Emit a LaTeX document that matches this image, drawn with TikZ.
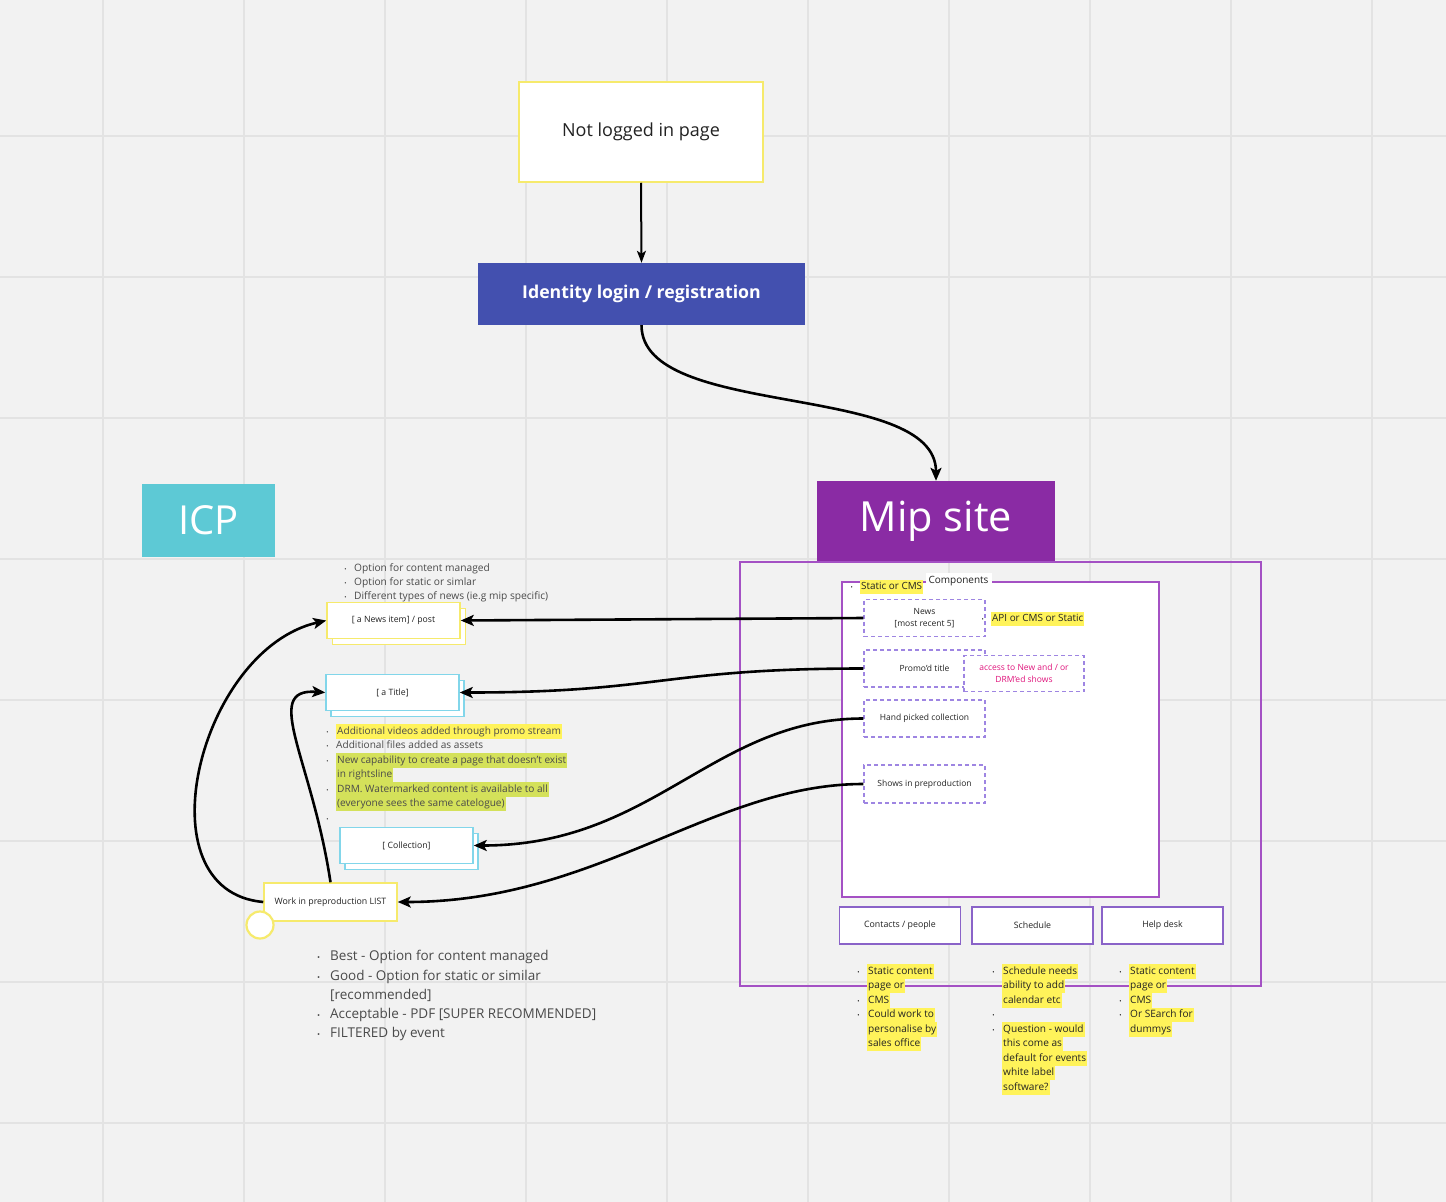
\documentclass[tikz,border=0pt]{standalone}
\usepackage{fontspec}
\setmainfont{Open Sans}
\usepackage{graphicx}
\usetikzlibrary{arrows.meta}

\definecolor{canvas}{HTML}{F2F2F2}
\definecolor{gridgray}{HTML}{E3E3E3}
\definecolor{stickyyellow}{HTML}{F6EA6C}
\definecolor{idblue}{HTML}{4350AF}
\definecolor{icpteal}{HTML}{5DC9D5}
\definecolor{mippurple}{HTML}{8A2BA4}
\definecolor{framepurple}{HTML}{A451C4}
\definecolor{dashviolet}{HTML}{9E85E2}
\definecolor{boxviolet}{HTML}{8A63C8}
\definecolor{cardcyan}{HTML}{82D6EA}
\definecolor{hlyellow}{HTML}{FFF35A}
\definecolor{hlgreen}{HTML}{D4E15A}
\definecolor{drmpink}{HTML}{E0147C}
\definecolor{textgray}{HTML}{4A4A4A}
\definecolor{textdark}{HTML}{222222}

\setlength{\fboxsep}{0pt}
\newcommand{\hly}[1]{\colorbox{hlyellow}{\strut\kern1pt#1\kern1pt}}
\newcommand{\hlg}[1]{\colorbox{hlgreen}{\strut\kern1pt#1\kern1pt}}
\newcommand{\bl}{\strut\llap{\scalebox{0.6}{\textbullet}\hspace{0.75em}}}

\tikzset{
  grid line/.style={draw=gridgray, line width=1.2},
  conn/.style={line width=2.6, -{Stealth[length=13pt,width=11pt,inset=3pt]}},
  conn thin/.style={line width=2, -{Stealth[length=12pt,width=9pt,inset=3pt]}},
  sticky/.style={draw=stickyyellow, fill=white, line width=1.5, text=textdark},
  card/.style={fill=white, line width=1.5, minimum width=133, minimum height=36,
    text=textdark, font=\fontsize{8.7}{11}\selectfont},
  slot/.style={draw=dashviolet, fill=white, line width=1.5, dash pattern=on 4pt off 3pt,
    minimum width=121, minimum height=37, text=textdark, font=\fontsize{8.5}{12}\selectfont, align=center},
  pagebox/.style={draw=boxviolet, fill=white, line width=1.8, minimum width=121,
    minimum height=37, text=textdark, font=\fontsize{8.8}{11}\selectfont},
  bullets/.style={anchor=north west, inner sep=0, align=left, text=textgray,
    font=\fontsize{10.1}{14.5}\selectfont},
}

\begin{document}
\begin{tikzpicture}[x=1pt,y=-1pt]
% canvas and grid
\fill[canvas] (0,0) rectangle (1446,1202);
\useasboundingbox (0,0) rectangle (1446,1202);
\foreach \gx in {103,244,...,1372} \draw[grid line] (\gx,0) -- (\gx,1202);
\foreach \gy in {136,277,...,1123} \draw[grid line] (0,\gy) -- (1446,\gy);

% entry flow
\node (notlogged) [sticky, minimum width=244, minimum height=100,
  font=\fontsize{18}{22}\selectfont] at (641,132) {Not logged in page};
\node (identity) [fill=idblue, minimum width=327, minimum height=62, text=white,
  font=\fontsize{17.7}{20}\selectfont\bfseries] at (641.5,294) {Identity login / registration};
\draw[conn thin] (notlogged.south) -- (identity.north);

% headers
\node (icp) [fill=icpteal, minimum width=133, minimum height=73, text=white,
  font=\fontsize{40}{44}\selectfont] at (208.5,520.5) {ICP};
\node (mip) [fill=mippurple, minimum width=238, minimum height=81, text=white,
  font=\fontsize{41.5}{46}\selectfont] at (936,521.5) {Mip site};
\draw[conn] (identity.south) .. controls +(0,95) and +(0,-100) .. (mip.north);

% Mip site frame and components
\node (mipframe) [draw=framepurple, line width=1.4, minimum width=521, minimum height=424]
  at (1000.5,774) {};
\node (components) [draw=framepurple, fill=white, line width=1.6, minimum width=317,
  minimum height=315] at (1000.5,739.5) {};
\node (complabel) [fill=white, inner sep=3, text=textdark, font=\fontsize{10}{12}\selectfont]
  at (958.5,581) {Components};
\node (staticcms) [anchor=west, inner sep=0, text=textdark, font=\fontsize{9.9}{14}\selectfont]
  at (860,586.5) {\bl\hly{Static or CMS}};

\node (news) [slot] at (924.5,618) {News\\ \relax[most recent 5]};
\node (promo) [slot] at (924.5,668.5) {\hspace*{0pt}Promo'd title\hspace*{0pt}};
\node (access) [slot, minimum width=120, minimum height=36, text=drmpink,
  font=\fontsize{8.5}{12}\selectfont] at (1024,673.5) {access to New and / or\\ DRM'ed shows};
\node (handpicked) [slot] at (924.5,718.5) {Hand picked collection};
\node (shows) [slot, minimum height=38] at (924.5,784) {Shows in preproduction};
\node (apicms) [anchor=west, inner sep=0, text=textdark, font=\fontsize{9.9}{14}\selectfont]
  at (991,618.5) {\bl\hly{API or CMS or Static}};

% pages under the frame
\node (contacts) [pagebox] at (900,925.5) {Contacts / people};
\node (schedule) [pagebox] at (1032.5,925.5) {Schedule};
\node (helpdesk) [pagebox] at (1162.5,925.5) {Help desk};

\node (contactsnotes) [bullets, text=textdark] at (867,964) {\bl\hly{Static content}\\
  \hly{page or}\\ \bl\hly{CMS}\\ \bl\hly{Could work to}\\ \hly{personalise by}\\
  \hly{sales office}};
\node (schedulenotes) [bullets, text=textdark] at (1002,964) {\bl\hly{Schedule needs}\\
  \hly{ability to add}\\ \hly{calendar etc}\\ \bl\\ \bl\hly{Question - would}\\
  \hly{this come as}\\ \hly{default for events}\\ \hly{white label}\\ \hly{software?}};
\node (helpdesknotes) [bullets, text=textdark] at (1129,964) {\bl\hly{Static content}\\
  \hly{page or}\\ \bl\hly{CMS}\\ \bl\hly{Or SEarch for}\\ \hly{dummys}};

% ICP cards
\node (newsitemB) [card, draw=stickyyellow] at (399,626.5) {};
\node (newsitem) [card, draw=stickyyellow] at (393.5,620.5) {[ a News item] / post};
\node (titleB) [card, draw=cardcyan] at (397.5,698.5) {};
\node (title) [card, draw=cardcyan] at (392.5,692.5) {[ a Title]};
\node (collectionB) [card, draw=cardcyan] at (411.5,851.5) {};
\node (collection) [card, draw=cardcyan] at (406.5,845.5) {[ Collection]};
\node (worklist) [sticky, minimum width=133, minimum height=38, font=\fontsize{8.8}{11}\selectfont]
  at (330.5,902) {Work in preproduction LIST};
\node (handle) [circle, draw=stickyyellow, fill=white, line width=2.2, minimum size=27]
  at (260,925) {};

% ICP notes
\node (newsnotes) [bullets, font=\fontsize{10.2}{14}\selectfont] at (354,561.5)
  {\bl Option for content managed\\ \bl Option for static or simlar\\
  \bl Different types of news (ie.g mip specific)};
\node (titlenotes) [bullets] at (336,724) {\bl\hly{Additional videos added through promo stream}\\
  \bl Additional files added as assets\\
  \bl\hlg{New capability to create a page that doesn't exist}\\ \hlg{in rightsline}\\
  \bl\hlg{DRM. Watermarked content is available to all}\\
  \hlg{(everyone sees the same catelogue)}\\ \bl};
\node (worknotes) [bullets, font=\fontsize{13.5}{19.3}\selectfont] at (330,947)
  {\bl Best - Option for content managed\\ \bl Good - Option for static or similar\\
  \relax[recommended]\\ \bl Acceptable - PDF [SUPER RECOMMENDED]\\ \bl FILTERED by event};

% connectors
\draw[conn] (news.west) -- (newsitem.east);
\draw[conn] (promo.west) .. controls +(-200,0) and +(200,0) .. (title.east);
\draw[conn] (handpicked.west) .. controls +(-150,0) and +(180,0) .. (collection.east);
\draw[conn] (shows.west) .. controls +(-150,0) and +(200,0) .. (worklist.east);
\draw[conn] (worklist.west) .. controls +(-124,-11) and +(-127,29) .. (newsitem.west);
\draw[conn] (worklist.north) .. controls +(-18.5,-123) and +(-64,-4.5) .. (title.west);
\end{tikzpicture}
\end{document}
